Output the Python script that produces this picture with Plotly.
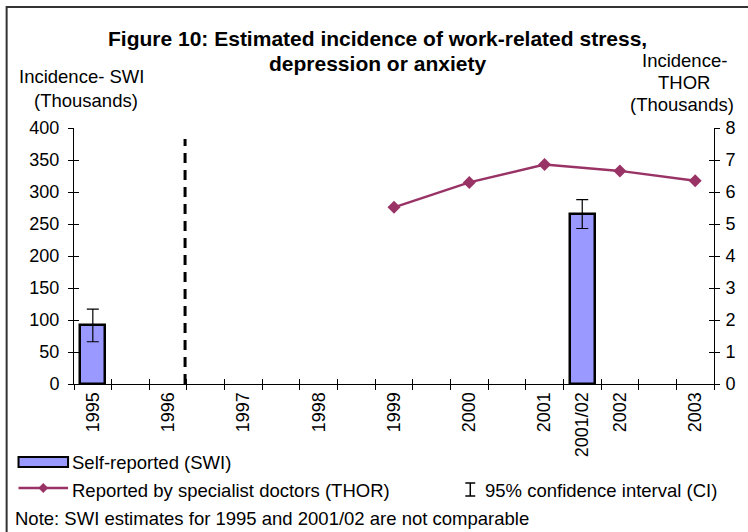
import plotly.graph_objects as go

# ---- data ----
categories = ["1995", " ", "1996", "  ", "1997", "   ", "1998", "    ", "1999", "     ",
              "2000", "      ", "2001", "2001/02", "2002", "       ", "2003"]
swi_periods = ["1995", "2001/02"]
swi_values = [92, 265]
swi_ci_upper = [117, 288]
swi_ci_lower = [66, 243]
thor_years = ["1999", "2000", "2001", "2002", "2003"]
thor_values = [5.52, 6.30, 6.86, 6.66, 6.35]
left_range = [0, 400]
right_range = [0, 8]

W, H = 748, 532
L, R, T, B = 74, 28, 128, 148
PW, PH = W - L - R, H - T - B


def PX(x):
    return (x - L) / PW


def PY(y):
    return (H - B - y) / PH


FONT = "Liberation Sans, Arial, sans-serif"
BAR_COLOR = "#9999FF"
LINE_COLOR = "#993366"

fig = go.Figure()

# invisible trace to register all categories
fig.add_trace(go.Scatter(x=categories, y=[None] * len(categories), mode="markers",
                         showlegend=False, hoverinfo="skip"))

fig.add_trace(go.Bar(
    x=swi_periods, y=swi_values, width=0.66,
    marker=dict(color=BAR_COLOR, line=dict(color="black", width=2.5)),
    error_y=dict(type="data",
                 array=[u - v for u, v in zip(swi_ci_upper, swi_values)],
                 arrayminus=[v - l for l, v in zip(swi_ci_lower, swi_values)],
                 color="black", thickness=1.2, width=6),
    showlegend=False, name="Self-reported (SWI)"))

fig.add_trace(go.Scatter(
    x=thor_years, y=thor_values, yaxis="y2", mode="lines+markers",
    line=dict(color=LINE_COLOR, width=2.5),
    marker=dict(symbol="diamond", size=10, color=LINE_COLOR),
    showlegend=False, name="Reported by specialist doctors (THOR)"))

# helper traces for overlay axes (inside half of cross ticks)
fig.add_trace(go.Scatter(x=[None], y=[None], xaxis="x3", yaxis="y", showlegend=False, hoverinfo="skip"))
fig.add_trace(go.Scatter(x=[None], y=[None], xaxis="x", yaxis="y3", showlegend=False, hoverinfo="skip"))
fig.add_trace(go.Scatter(x=[None], y=[None], xaxis="x", yaxis="y4", showlegend=False, hoverinfo="skip"))

tickfont = dict(family=FONT, size=18, color="black")

fig.update_layout(
    width=W, height=H,
    margin=dict(l=L, r=R, t=T, b=B, pad=0),
    paper_bgcolor="white", plot_bgcolor="white",
    font=dict(family=FONT, color="black"),
    bargap=0,
    xaxis=dict(type="category", categoryorder="array", categoryarray=categories,
               range=[-0.5, len(categories) - 0.5], tickson="boundaries",
               ticks="outside", ticklen=5, tickwidth=1, tickcolor="black",
               tickangle=-90, tickfont=tickfont,
               showline=True, linecolor="black", linewidth=1,
               showgrid=False, zeroline=False),
    xaxis3=dict(type="linear", overlaying="x", anchor="y",
                range=[-0.5, len(categories) - 0.5],
                tickvals=[i - 0.5 for i in range(len(categories) + 1)],
                ticks="inside", ticklen=5, tickcolor="black",
                showticklabels=False, showline=False, showgrid=False, zeroline=False),
    yaxis=dict(range=left_range, dtick=50, ticks="outside", ticklen=5,
               tickcolor="black", tickfont=tickfont, ticklabelstandoff=5,
               showline=True, linecolor="black", linewidth=1,
               showgrid=False, zeroline=False),
    yaxis3=dict(range=left_range, dtick=50, overlaying="y", side="left", anchor="x",
                ticks="inside", ticklen=5, tickcolor="black",
                showticklabels=False, showline=False, showgrid=False, zeroline=False),
    yaxis2=dict(range=right_range, dtick=1, overlaying="y", side="right", anchor="x",
                ticks="outside", ticklen=5, tickcolor="black", tickfont=tickfont,
                ticklabelstandoff=2,
                showline=True, linecolor="black", linewidth=1,
                showgrid=False, zeroline=False),
    yaxis4=dict(range=right_range, dtick=1, overlaying="y", side="right", anchor="x",
                ticks="inside", ticklen=5, tickcolor="black",
                showticklabels=False, showline=False, showgrid=False, zeroline=False),
)

# dashed separator between 1995 and later data
fig.add_shape(type="line", xref="x", yref="y", x0=2.45, x1=2.45, y0=0, y1=383,
              line=dict(color="black", width=3, dash="10px,7px"))

# outer border
fig.add_shape(type="rect", xref="paper", yref="paper",
              x0=PX(6), x1=PX(780), y0=PY(7), y1=PY(560),
              line=dict(color="#333333", width=2), layer="above")


def text(s, x, y, size=18.5, anchor="center", bold=False):
    fig.add_annotation(text=("<b>%s</b>" % s) if bold else s,
                       x=PX(x), y=PY(y), xref="paper", yref="paper",
                       xanchor=anchor, yanchor="middle", showarrow=False,
                       font=dict(family=FONT, size=size, color="black"))


text("Figure 10: Estimated incidence of work-related stress,", 380, 38, size=21, bold=True)
text("depression or anxiety", 380, 63, size=21, bold=True)
text("Incidence- SWI", 82, 76)
text("(Thousands)", 86, 100)
text("Incidence-", 690, 60)
text("THOR", 690, 82)
text("(Thousands)", 688, 104)

# legend
fig.add_shape(type="rect", xref="paper", yref="paper",
              x0=PX(18), x1=PX(68), y0=PY(457), y1=PY(467),
              fillcolor=BAR_COLOR, line=dict(color="black", width=2))
text("Self-reported (SWI)", 70, 462, anchor="left")
fig.add_shape(type="line", xref="paper", yref="paper",
              x0=PX(18), x1=PX(68), y0=PY(488), y1=PY(488),
              line=dict(color=LINE_COLOR, width=2.5))
d = 5
fig.add_shape(type="path", xref="paper", yref="paper",
              path="M %f %f L %f %f L %f %f L %f %f Z" % (
                  PX(43 - d), PY(488), PX(43), PY(488 - d),
                  PX(43 + d), PY(488), PX(43), PY(488 + d)),
              fillcolor=LINE_COLOR, line=dict(color=LINE_COLOR, width=0))
text("Reported by specialist doctors (THOR)", 70, 490, anchor="left")
# CI symbol
for (x0, y0, x1, y1) in [(474, 483, 474, 496), (469, 483, 479, 483), (469, 496, 479, 496)]:
    fig.add_shape(type="line", xref="paper", yref="paper",
                  x0=PX(x0), x1=PX(x1), y0=PY(y0), y1=PY(y1),
                  line=dict(color="black", width=1.5))
text("95% confidence interval (CI)", 487, 490, anchor="left")
text("Note: SWI estimates for 1995 and 2001/02 are not comparable", 12, 518, anchor="left")

fig.write_html("out.html", config={"displayModeBar": False},
               post_script="document.body.style.margin='0';document.body.style.overflow='hidden';")
